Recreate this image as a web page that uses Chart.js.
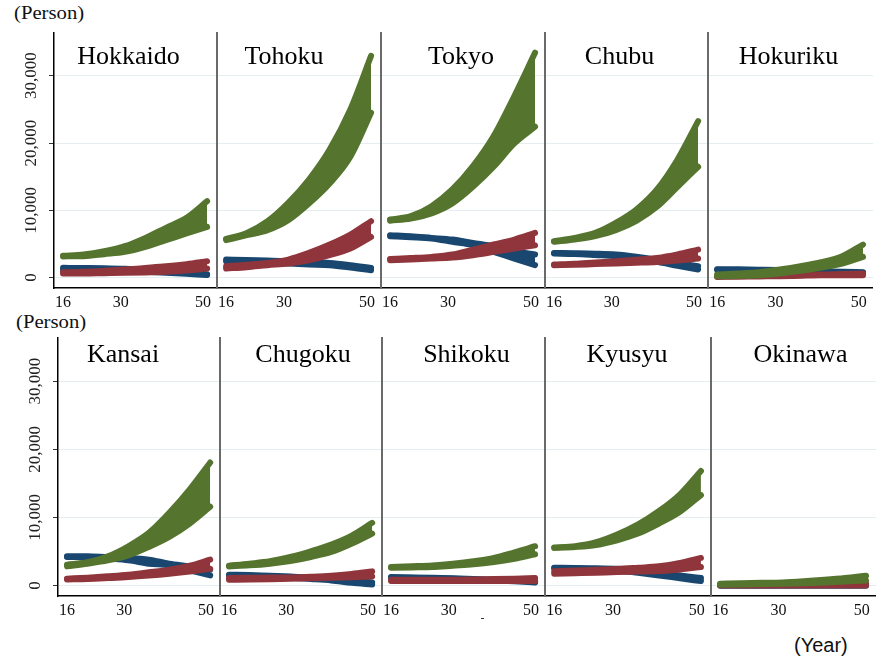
<!DOCTYPE html>
<html>
<head>
<meta charset="utf-8">
<script src="https://cdn.jsdelivr.net/npm/chart.js@4.4.0/dist/chart.umd.min.js"></script>
<style>
  html, body { margin: 0; padding: 0; background: #fff; }
  #page { position: relative; width: 879px; height: 662px; overflow: hidden; }
  .note { position: absolute; font-family: "Liberation Serif", serif; font-size: 18px; color: #111; white-space: nowrap; transform: scaleX(1.15); transform-origin: left top; }
</style>
</head>
<body>
<div id="page">
  <div class="note" style="left:14px; top:3px;">(Person)</div>
  <div class="note" style="left:16px; top:312px;">(Person)</div>
  <div class="note" style="left:794px; top:634px; font-family:'Liberation Sans', sans-serif; font-size:20px; transform:none;">(Year)</div>
  <div style="position:absolute; left:481px; top:618px; width:3px; height:1px; background:#333;"></div>
</div>
<script>
// regions, drawn left to right, top row then bottom row
var regions = ['Hokkaido', 'Tohoku', 'Tokyo', 'Chubu', 'Hokuriku',
               'Kansai', 'Chugoku', 'Shikoku', 'Kyusyu', 'Okinawa'];
var years = [16, 21, 26, 31, 36, 41, 46, 51];
var xTicks = [16, 30, 50];
var yTicks = [0, 10000, 20000, 30000];

// each series is a band of scenarios: lower and upper edge per year, one row per region
var greenLow = [
  [3150, 3180, 3480, 3820, 4570, 5560, 6550, 7540],
  [5560, 6300, 7050, 8530, 11010, 13990, 17950, 24500],
  [8440, 8780, 9530, 11010, 13490, 16470, 19940, 22420],
  [5310, 5660, 6150, 7050, 8440, 10520, 13490, 16470],
  [200, 250, 350, 600, 1000, 1490, 2090, 3080],
  [2800, 3200, 3690, 4430, 5660, 7130, 9100, 11560],
  [2800, 2950, 3200, 3590, 4180, 4920, 6150, 7620],
  [2600, 2650, 2700, 2900, 3100, 3440, 3930, 4570],
  [5520, 5660, 5950, 6640, 7620, 9100, 10820, 13280],
  [100, 150, 200, 250, 330, 440, 580, 740]
];
var greenHigh = [
  [3250, 3420, 3910, 4660, 5900, 7390, 8880, 11350],
  [5750, 6640, 8380, 11110, 14580, 19040, 24990, 32950],
  [8630, 9120, 10610, 13090, 16560, 21030, 26980, 33430],
  [5400, 5900, 6640, 8130, 10110, 13090, 17550, 23250],
  [440, 600, 790, 1190, 1680, 2280, 3170, 4910],
  [3050, 3400, 4280, 5760, 7730, 10680, 14120, 18060],
  [2910, 3200, 3550, 4180, 5020, 6010, 7330, 9200],
  [2710, 2820, 2950, 3200, 3550, 4040, 4870, 5760],
  [5560, 5760, 6350, 7480, 8960, 10930, 13390, 16830],
  [250, 320, 380, 450, 620, 840, 1100, 1430]
];
var redLow = [
  [600, 600, 650, 700, 770, 850, 1050, 1340],
  [1340, 1550, 1840, 2090, 2580, 3330, 4320, 6050],
  [2580, 2700, 2830, 2980, 3330, 3820, 4320, 4810],
  [1840, 1900, 2000, 2090, 2200, 2330, 2550, 2830],
  [100, 130, 170, 200, 280, 350, 350, 350],
  [880, 950, 1080, 1230, 1450, 1720, 2050, 2460],
  [830, 870, 920, 980, 1050, 1130, 1220, 1330],
  [640, 640, 640, 640, 640, 640, 640, 640],
  [1720, 1800, 1880, 1970, 2040, 2110, 2350, 2700],
  [0, 0, 0, 0, 0, 0, 0, 0]
];
var redHigh = [
  [790, 850, 1000, 1190, 1430, 1680, 2000, 2430],
  [1680, 1900, 2180, 2670, 3670, 4910, 6400, 8380],
  [2770, 2900, 3070, 3420, 4160, 4910, 5650, 6640],
  [1930, 2050, 2250, 2430, 2650, 2920, 3450, 4160],
  [190, 220, 260, 290, 360, 440, 520, 590],
  [990, 1150, 1350, 1580, 1930, 2320, 2900, 3790],
  [1090, 1120, 1150, 1180, 1280, 1430, 1700, 2070],
  [840, 840, 840, 840, 880, 930, 1000, 1090],
  [2070, 2180, 2300, 2410, 2600, 2810, 3300, 4040],
  [150, 170, 190, 210, 240, 270, 310, 350]
];
var blueLow = [
  [1150, 1100, 1050, 1000, 850, 700, 550, 400],
  [2430, 2350, 2250, 2090, 1950, 1840, 1500, 1090],
  [6150, 6000, 5810, 5310, 4810, 3820, 2830, 1840],
  [3570, 3500, 3350, 3180, 2800, 2330, 1750, 1190],
  [1150, 1120, 1100, 1050, 950, 850, 750, 700],
  [4180, 4150, 3930, 3690, 3200, 2950, 2210, 1470],
  [1470, 1400, 1250, 1130, 950, 740, 400, 140],
  [1180, 1120, 1050, 980, 860, 740, 600, 440],
  [2550, 2500, 2400, 2210, 1850, 1470, 1050, 640],
  [-50, -50, -50, -50, -50, -50, -50, -50]
];
var blueHigh = [
  [1450, 1420, 1380, 1300, 1150, 950, 750, 500],
  [2670, 2600, 2520, 2430, 2300, 2180, 1850, 1430],
  [6300, 6150, 5900, 5650, 5150, 4660, 3910, 3420],
  [3670, 3620, 3550, 3420, 3100, 2670, 2200, 1680],
  [1250, 1220, 1180, 1130, 1050, 950, 850, 800],
  [4280, 4300, 4140, 4040, 3790, 3200, 2810, 2320],
  [1580, 1520, 1420, 1330, 1150, 940, 700, 450],
  [1230, 1180, 1120, 1040, 950, 840, 720, 590],
  [2600, 2580, 2520, 2460, 2200, 1820, 1450, 1090],
  [100, 100, 100, 100, 100, 100, 100, 100]
];

var GREEN = '#55752f', RED = '#90353b', BLUE = '#1a476f';
var serif = '"Liberation Serif", "Times New Roman", serif';

// layout of the two rows (pixel edges of the panels)
var rows = [
  { top: 32, bottom: 288, edges: [54, 217, 381, 545, 708, 873], titleY: 32 },
  { top: 337, bottom: 596, edges: [58, 220, 382, 545, 711, 876], titleY: 25 }
];
var titleShift = [-7, -15, -2, -7, -2, -16, 2, 3, -1, 7];

function pts(arr) {
  return years.map(function (t, k) { return { x: t, y: arr[k] }; });
}

function band(lo, hi, color) {
  var common = {
    borderColor: color,
    backgroundColor: color,
    borderWidth: 6,
    borderCapStyle: 'round',
    borderJoinStyle: 'round',
    pointRadius: 0,
    cubicInterpolationMode: 'monotone'
  };
  return [
    Object.assign({ data: pts(lo), fill: false }, common),
    Object.assign({ data: pts(hi), fill: '-1' }, common)
  ];
}

var titlePlugin = {
  id: 'panelTitle',
  afterDraw: function (chart) {
    var o = chart.options.plugins.panelTitle;
    var a = chart.chartArea;
    var ctx = chart.ctx;
    ctx.save();
    ctx.font = '26px ' + serif;
    ctx.fillStyle = '#000';
    ctx.textAlign = 'center';
    ctx.textBaseline = 'alphabetic';
    ctx.fillText(o.text, (a.left + a.right) / 2 + o.shift, a.top + o.y);
    ctx.restore();
  }
};

var page = document.getElementById('page');

regions.forEach(function (name, i) {
  var row = rows[Math.floor(i / 5)];
  var c = i % 5;
  var first = c === 0;
  var yW = first ? row.edges[0] : 3;
  var left = first ? 0 : row.edges[c] - 3;
  var width = row.edges[c + 1] - left;
  var xH = 26;
  var height = row.bottom - row.top + xH;

  var canvas = document.createElement('canvas');
  canvas.width = width;
  canvas.height = height;
  canvas.style.position = 'absolute';
  canvas.style.left = left + 'px';
  canvas.style.top = row.top + 'px';
  page.appendChild(canvas);

  var datasets = [].concat(
    band(greenLow[i], greenHigh[i], GREEN),
    band(redLow[i], redHigh[i], RED),
    band(blueLow[i], blueHigh[i], BLUE)
  );

  new Chart(canvas.getContext('2d'), {
    type: 'line',
    data: { datasets: datasets },
    options: {
      responsive: false,
      animation: false,
      devicePixelRatio: 1,
      layout: { padding: 0 },
      plugins: {
        legend: { display: false },
        tooltip: { enabled: false },
        panelTitle: { text: name, shift: titleShift[i], y: row.titleY }
      },
      scales: {
        x: {
          type: 'linear',
          min: 13.8,
          max: 53.4,
          afterBuildTicks: function (s) { s.ticks = xTicks.map(function (v) { return { value: v }; }); },
          afterFit: function (s) { s.height = xH; s.paddingLeft = 0; s.paddingRight = 0; },
          grid: { display: false, drawTicks: false },
          border: { color: '#000', width: 1.5 },
          ticks: { autoSkip: false, maxRotation: 0, padding: 5, color: '#111', font: { family: serif, size: 16 } }
        },
        y: {
          min: -1550,
          max: 36500,
          afterBuildTicks: function (s) { s.ticks = yTicks.map(function (v) { return { value: v }; }); },
          afterFit: function (s) { s.width = yW; s.paddingTop = 0; s.paddingBottom = 0; },
          grid: { color: '#e4eef1', lineWidth: 1, drawTicks: first, tickLength: 5, tickColor: '#333' },
          border: first ? { color: '#000', width: 1.5 } : { color: '#6a6a6a', width: 2 },
          ticks: {
            display: first,
            minRotation: 90,
            maxRotation: 90,
            crossAlign: 'center',
            padding: -6,
            color: '#222',
            font: { family: serif, size: 17 },
            callback: function (v) { return v.toLocaleString('en-US'); }
          }
        }
      }
    },
    plugins: [titlePlugin]
  });
});
</script>
</body>
</html>
